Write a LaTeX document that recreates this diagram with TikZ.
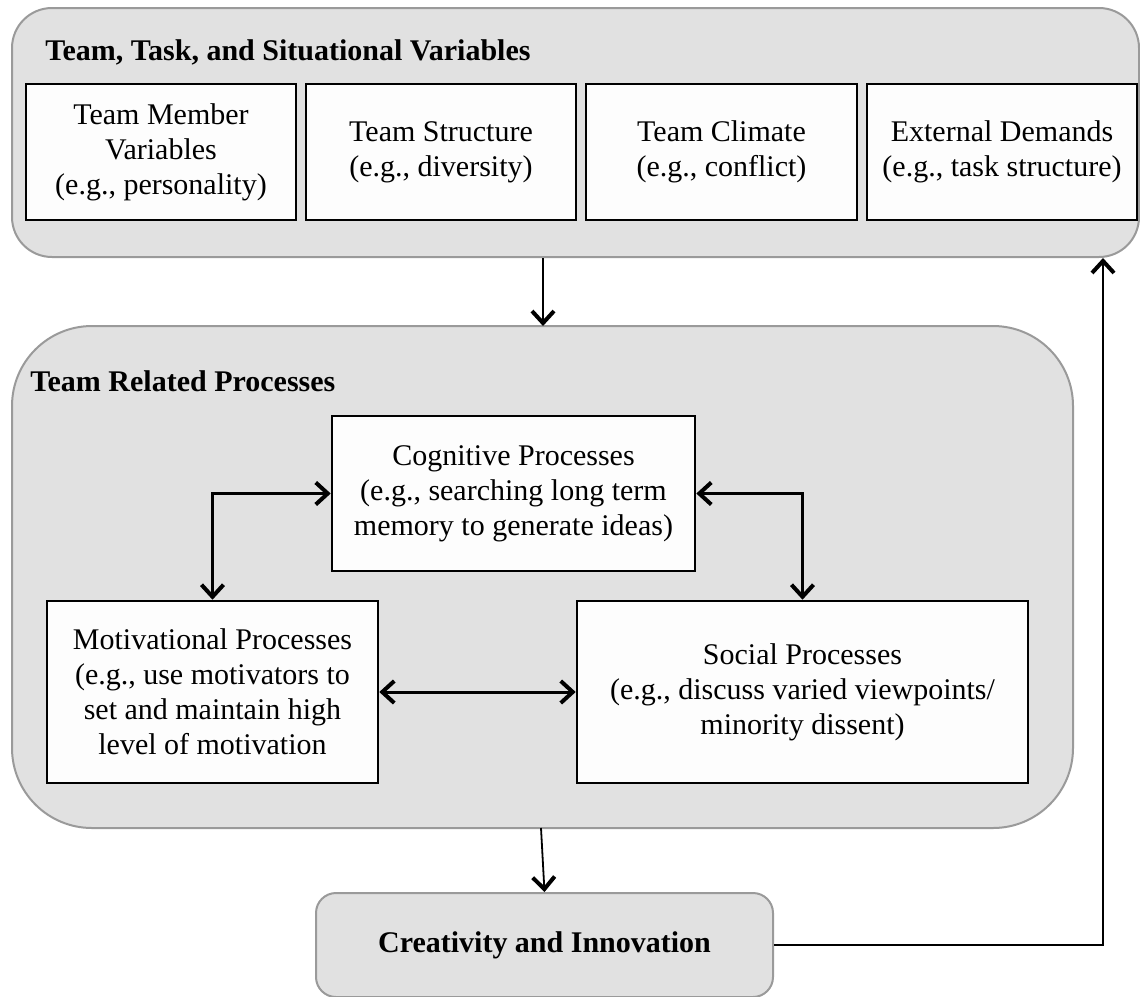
\documentclass[tikz,border=0pt]{standalone}
\usepackage{fontspec}
\setmainfont{Liberation Serif}
\usetikzlibrary{arrows.meta}
\definecolor{outerfill}{HTML}{E1E1E1}
\definecolor{outerline}{HTML}{9A9A9A}
\definecolor{innerfill}{HTML}{FDFDFD}
\begin{document}
\begin{tikzpicture}[x=0.5pt,y=-0.5pt,
  outerbox/.style={draw=outerline, fill=outerfill, line width=1pt, inner sep=0pt},
  innerbox/.style={draw=black, fill=innerfill, line width=1.3pt, inner sep=0pt, align=center,
    font=\fontsize{15}{17.5}\selectfont},
  title/.style={anchor=west, inner sep=0pt, font=\fontsize{15}{17.5}\selectfont\bfseries},
  conn/.style={line width=0.9pt, -{Straight Barb[length=6pt,width=11pt,line width=2pt]}},
  biconn/.style={line width=1.5pt, {Straight Barb[length=6pt,width=11pt,line width=2pt]}-{Straight Barb[length=6pt,width=11pt,line width=2pt]}},
  fbconn/.style={line width=1.3pt, -{Straight Barb[length=6pt,width=11pt,line width=2pt]}}
]
\useasboundingbox (0,0) rectangle (1140,996);

% outer containers
\node[outerbox, rounded corners=20pt, minimum width=563.5pt, minimum height=124.5pt] (top) at (575.5,132.5) {};
\node[outerbox, rounded corners=40pt, minimum width=530.5pt, minimum height=251pt] (mid) at (542.5,577) {};
\node[outerbox, rounded corners=10pt, minimum width=228.5pt, minimum height=52pt,
  font=\fontsize{15}{17.5}\selectfont\bfseries] (cre) at (544.5,945) {Creativity and Innovation};

% titles
\node[title] (ttop) at (45,52) {Team, Task, and Situational Variables};
\node[title] (tmid) at (30,381) {Team Related Processes};

% top row boxes
\node[innerbox, minimum width=135pt, minimum height=68pt] (t1) at (161,152) {Team Member\\Variables\\(e.g., personality)};
\node[innerbox, minimum width=135pt, minimum height=68pt] (t2) at (441,152) {Team Structure\\(e.g., diversity)};
\node[innerbox, minimum width=135.5pt, minimum height=68pt] (t3) at (721.5,152) {Team Climate\\(e.g., conflict)};
\node[innerbox, minimum width=135pt, minimum height=68pt] (t4) at (1002,152) {External Demands\\(e.g., task structure)};

% process boxes
\node[innerbox, minimum width=181.5pt, minimum height=77.5pt] (cog) at (513.5,493.5) {Cognitive Processes\\(e.g., searching long term\\memory to generate ideas)};
\node[innerbox, minimum width=165.5pt, minimum height=91pt] (mot) at (212.5,692) {Motivational Processes\\(e.g., use motivators to\\set and maintain high\\level of motivation};
\node[innerbox, minimum width=225.5pt, minimum height=91pt] (soc) at (802.5,692) {Social Processes\\(e.g., discuss varied viewpoints/\\minority dissent)};

% connector end points on container edges
\coordinate (topout) at (543,258);
\coordinate (midin) at (543,326);
\coordinate (midout) at (541,828);
\coordinate (fbend) at (1103,258);

% connectors
\draw[conn] (topout) -- (midin);
\draw[biconn] (cog.west) -| (mot.north);
\draw[biconn] (cog.east) -| (soc.north);
\draw[biconn] (mot.east) -- (soc.west);
\draw[conn] (midout) -- (cre.north);
\draw[fbconn] (cre.east) -| (fbend);
\end{tikzpicture}
\end{document}
